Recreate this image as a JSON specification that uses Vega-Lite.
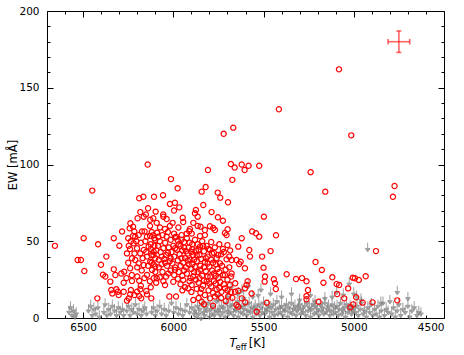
{
"$schema":"https://vega.github.io/schema/vega-lite/v6.json",
"width":397,"height":307,
"autosize":{"type":"none"},
"padding":{"left":47,"top":11,"right":20,"bottom":37},
"config":{
 "view":{"stroke":"#000","strokeWidth":1},
 "axis":{"domain":false,"grid":false,"labelFont":"DejaVu Sans","titleFont":"DejaVu Sans","labelFontSize":10.5,"titleFontSize":11.5,"titleFontWeight":"normal","labelColor":"#000","titleColor":"#000","tickColor":"#000","tickWidth":1}
},
"datasets":{
"circles":[
{"t":5082,"e":162},{"t":5415,"e":136},{"t":5668,"e":124},{"t":5721,"e":120},{"t":5014,"e":119},{"t":6142,"e":100},{"t":5808,"e":96.4},{"t":5681,"e":100.3},{"t":5660,"e":98},{"t":5621,"e":100},{"t":5605,"e":96.4},{"t":5583,"e":99.2},{"t":5524,"e":99.2},{"t":5239,"e":95},{"t":5673,"e":90},{"t":6013,"e":90.5},{"t":4774,"e":86},{"t":4783,"e":79},{"t":5158,"e":82.3},{"t":6449,"e":83},{"t":5976,"e":84.5},{"t":5843,"e":82.3},{"t":5821,"e":85.3},{"t":5754,"e":81.7},{"t":5740,"e":78.4},{"t":5697,"e":75.4},{"t":5834,"e":73.6},{"t":6107,"e":79},{"t":6057,"e":80},{"t":6019,"e":74.3},{"t":5991,"e":75.1},{"t":5996,"e":70},{"t":5967,"e":72.1},{"t":6098,"e":69.3},{"t":5875,"e":70.4},{"t":5880,"e":68.2},{"t":5788,"e":69},{"t":5753,"e":65.6},{"t":5725,"e":63.4},{"t":5699,"e":57.8},{"t":5714,"e":55.4},{"t":6056,"e":67.5},{"t":5948,"e":65.3},{"t":5865,"e":66},{"t":5865,"e":60},{"t":5889,"e":62},{"t":5849,"e":59.5},{"t":5797,"e":59.8},{"t":5779,"e":58.6},{"t":5621,"e":52},{"t":5563,"e":56.4},{"t":5542,"e":55.2},{"t":5524,"e":53},{"t":5705,"e":54},{"t":5769,"e":57.3},{"t":5825,"e":57.3},{"t":5912,"e":56.5},{"t":5498,"e":66},{"t":5431,"e":53.9},
{"t":6189,"e":78},{"t":6166,"e":79},{"t":6140,"e":71.5},{"t":6183,"e":69},{"t":6152,"e":67.5},{"t":6164,"e":66},{"t":6198,"e":65},{"t":6128,"e":64},{"t":6238,"e":61.7},{"t":6223,"e":59.5},{"t":6242,"e":58.4},{"t":6216,"e":56.4},{"t":6284,"e":56.4},{"t":6174,"e":56.4},{"t":6159,"e":56.4},{"t":6497,"e":52},{"t":6330,"e":52},{"t":6223,"e":53.4},
{"t":6129,"e":60},{"t":6111,"e":65},{"t":6092,"e":62},{"t":6074,"e":59},{"t":6055,"e":66},{"t":6046,"e":58},{"t":6037,"e":64.5},{"t":6019,"e":60},{"t":6004,"e":62},{"t":5996,"e":55},{"t":5972,"e":59},{"t":5954,"e":54},{"t":5945,"e":62.5},{"t":5926,"e":55},{"t":5908,"e":58},{"t":6111,"e":54},{"t":6083,"e":53},{"t":6037,"e":53},{"t":5991,"e":52.5},{"t":6129,"e":53.5},{"t":5898,"e":55},
{"t":6220,"e":48.7},{"t":6201,"e":45.4},{"t":6183,"e":42.1},{"t":6164,"e":44.3},{"t":6137,"e":46.5},{"t":6109,"e":43.2},{"t":6229,"e":38.9},{"t":6211,"e":37.8},{"t":6192,"e":35.6},{"t":6239,"e":32.4},{"t":6164,"e":34.5},{"t":6128,"e":36.7},{"t":6100,"e":38.9},{"t":6118,"e":31.3},{"t":6146,"e":28},{"t":6109,"e":25.9},{"t":6192,"e":54},{"t":6146,"e":53},{"t":6100,"e":50.8},{"t":6211,"e":53},{"t":6257,"e":42.1},{"t":6146,"e":40},{"t":6656,"e":47},{"t":6417,"e":48},{"t":6530,"e":37.8},{"t":6512,"e":37.8},{"t":6493,"e":30.6},{"t":6371,"e":40},{"t":6401,"e":34.7},{"t":6390,"e":28.2},{"t":6377,"e":27},{"t":6421,"e":12.8},{"t":6349,"e":23.7},{"t":6299,"e":47.1},{"t":6247,"e":47},{"t":6330,"e":31.7},{"t":6272,"e":30.2},{"t":6321,"e":28},{"t":6288,"e":29},{"t":6344,"e":18.2},{"t":6338,"e":16},{"t":6316,"e":18.7},{"t":6307,"e":17.1},{"t":6275,"e":23},{"t":6275,"e":17.1},{"t":6303,"e":15},{"t":6229,"e":24.1},{"t":6235,"e":18.2},{"t":6239,"e":15.4},{"t":6247,"e":12.8},{"t":6257,"e":11.3},{"t":6216,"e":15},{"t":6201,"e":17.1},{"t":6189,"e":14.3},{"t":6178,"e":12.8},{"t":6183,"e":18.7},{"t":6189,"e":24.3},{"t":6150,"e":17.6},{"t":6146,"e":15.4},{"t":6122,"e":12.8},
{"t":6250,"e":52},{"t":6235,"e":50},{"t":6205,"e":50},{"t":6180,"e":49},{"t":6155,"e":50},{"t":6125,"e":48},{"t":6105,"e":47},{"t":6240,"e":45},{"t":6215,"e":42},{"t":6170,"e":39},{"t":6150,"e":43},{"t":6120,"e":41},{"t":6095,"e":44},{"t":6250,"e":36},{"t":6200,"e":33},{"t":6175,"e":31},{"t":6140,"e":34},{"t":6110,"e":35},{"t":6230,"e":28},{"t":6200,"e":27},{"t":6160,"e":26},{"t":6130,"e":24},{"t":6100,"e":30},{"t":6260,"e":26},{"t":6180,"e":21},{"t":6125,"e":20},{"t":6095,"e":23},
{"t":5852,"e":53.4},{"t":5825,"e":54},{"t":5640,"e":46.5},{"t":5579,"e":44.3},{"t":5575,"e":40},{"t":5852,"e":46.5},{"t":5797,"e":44.3},{"t":5751,"e":41},{"t":5742,"e":35.6},{"t":5705,"e":38.2},{"t":5677,"e":37.8},{"t":5650,"e":37.8},{"t":5627,"e":36.7},{"t":5603,"e":32.4},{"t":5677,"e":29},{"t":5714,"e":28},{"t":6046,"e":21.5},{"t":6000,"e":23.6},{"t":6028,"e":29},{"t":5991,"e":31.3},{"t":6092,"e":25.9},{"t":6022,"e":14},{"t":5985,"e":14},{"t":5945,"e":24.8},{"t":5898,"e":21.5},{"t":5917,"e":19.3},{"t":5843,"e":10.6},{"t":5797,"e":12.8},{"t":5769,"e":14},{"t":5889,"e":11.7},{"t":5733,"e":17.1},{"t":5714,"e":19.3},{"t":5696,"e":14},{"t":5686,"e":21.5},{"t":5658,"e":17.1},{"t":5650,"e":8.5},{"t":5640,"e":7.4},{"t":5621,"e":12.8},{"t":5603,"e":19.3},{"t":5594,"e":21.5},{"t":5538,"e":4.1},{"t":5566,"e":16},
{"t":6120,"e":56},{"t":6105,"e":52},{"t":6090,"e":55.5},{"t":6075,"e":50},{"t":6060,"e":54},{"t":6045,"e":49},{"t":6030,"e":56},{"t":6015,"e":51},{"t":6000,"e":47},{"t":5985,"e":53},{"t":5970,"e":48},{"t":5955,"e":51},{"t":5940,"e":46},{"t":5925,"e":52},{"t":5910,"e":49},{"t":5895,"e":45},
{"t":6125,"e":45},{"t":6110,"e":41},{"t":6085,"e":47},{"t":6070,"e":43},{"t":6055,"e":45.5},{"t":6040,"e":41},{"t":6025,"e":46},{"t":6010,"e":43},{"t":5995,"e":40},{"t":5980,"e":44.5},{"t":5965,"e":41.5},{"t":5950,"e":44},{"t":5935,"e":39},{"t":5920,"e":42},{"t":5905,"e":38},{"t":5890,"e":41},
{"t":6120,"e":36},{"t":6100,"e":33.5},{"t":6080,"e":38},{"t":6065,"e":35},{"t":6050,"e":38.5},{"t":6035,"e":34},{"t":6020,"e":37},{"t":6005,"e":35.5},{"t":5990,"e":33},{"t":5975,"e":37.5},{"t":5960,"e":34},{"t":5945,"e":36},{"t":5930,"e":33},{"t":5915,"e":35},{"t":5900,"e":32},
{"t":6060,"e":30},{"t":6040,"e":27},{"t":6015,"e":31},{"t":5995,"e":28},{"t":5970,"e":30},{"t":5950,"e":27.5},{"t":5925,"e":29},{"t":5905,"e":26},{"t":5885,"e":30},{"t":6075,"e":26.5},{"t":6055,"e":24},{"t":5960,"e":22},{"t":5935,"e":20},{"t":5910,"e":24},
{"t":5880,"e":51},{"t":5865,"e":48},{"t":5840,"e":50},{"t":5815,"e":47},{"t":5790,"e":49.5},{"t":5770,"e":46},{"t":5745,"e":48},{"t":5725,"e":45},{"t":5700,"e":47.5},{"t":5685,"e":44},
{"t":5875,"e":44},{"t":5855,"e":41},{"t":5830,"e":43.5},{"t":5810,"e":40},{"t":5785,"e":42},{"t":5760,"e":39},{"t":5735,"e":41.5},{"t":5720,"e":43},{"t":5690,"e":40},
{"t":5870,"e":37},{"t":5850,"e":34},{"t":5825,"e":36.5},{"t":5800,"e":33.5},{"t":5780,"e":36},{"t":5755,"e":32},{"t":5730,"e":34},{"t":5710,"e":31.5},{"t":5690,"e":33},
{"t":5865,"e":30},{"t":5840,"e":27.5},{"t":5820,"e":30.5},{"t":5795,"e":27},{"t":5775,"e":29},{"t":5750,"e":26},{"t":5725,"e":28},{"t":5700,"e":25},{"t":5680,"e":27},
{"t":5860,"e":23},{"t":5835,"e":21},{"t":5815,"e":24},{"t":5790,"e":20.5},{"t":5765,"e":22.5},{"t":5745,"e":19.5},{"t":5720,"e":22},{"t":5700,"e":18},{"t":5680,"e":17},
{"t":5850,"e":16.5},{"t":5825,"e":15},{"t":5805,"e":18},{"t":5780,"e":16.5},{"t":5755,"e":15.5},{"t":5735,"e":13},{"t":5710,"e":11},{"t":5860,"e":13},{"t":5830,"e":9},{"t":5780,"e":8},
{"t":5900,"e":17},{"t":5875,"e":25},{"t":5880,"e":33.5},{"t":5895,"e":48},
{"t":5990,"e":45.5},{"t":5975,"e":50.5},{"t":5960,"e":47},{"t":5940,"e":49.5},{"t":5930,"e":43.5},{"t":5915,"e":46},{"t":5900,"e":43},{"t":5885,"e":38},{"t":5860,"e":44.5},{"t":5845,"e":38.5},{"t":5835,"e":47},{"t":5820,"e":39},{"t":5805,"e":45},{"t":5790,"e":38},{"t":5775,"e":42.5},{"t":5765,"e":35},{"t":5850,"e":31.5},{"t":5830,"e":33},{"t":5810,"e":35.5},{"t":5785,"e":31},{"t":5765,"e":27.5},{"t":5745,"e":30},{"t":5855,"e":26},{"t":5830,"e":24.5},{"t":5810,"e":27},{"t":5800,"e":22.5},{"t":5775,"e":24},{"t":5955,"e":39},{"t":5940,"e":31},{"t":5920,"e":37.5},{"t":5895,"e":35},{"t":5870,"e":41},{"t":6030,"e":42.5},{"t":6015,"e":39},{"t":6045,"e":36},{"t":6065,"e":40},{"t":6080,"e":33},{"t":5975,"e":25.5},{"t":5950,"e":18},{"t":5890,"e":27},{"t":5870,"e":19},{"t":5845,"e":19},{"t":5760,"e":18.5},{"t":5740,"e":23.5},
{"t":5461,"e":43.6},{"t":5508,"e":40},{"t":5635,"e":35.2},{"t":5500,"e":32.8},{"t":5492,"e":27},{"t":5588,"e":24},{"t":5494,"e":23.7},{"t":5443,"e":25.2},{"t":5437,"e":22.6},{"t":5657,"e":22.6},{"t":5640,"e":17.8},{"t":5673,"e":13.2},{"t":5432,"e":18.9},{"t":5601,"e":10.2},{"t":5482,"e":10},
{"t":5372,"e":28.5},{"t":5320,"e":25.4},{"t":5287,"e":26},{"t":5262,"e":23.9},{"t":5254,"e":18.2},{"t":5262,"e":14.3},{"t":5262,"e":12.2},{"t":5195,"e":10.6},{"t":5212,"e":36.5},{"t":5177,"e":31.3},{"t":5168,"e":23},{"t":5119,"e":26.5},{"t":5095,"e":22.1},{"t":5081,"e":21.5},{"t":5092,"e":15.6},{"t":5053,"e":12.8},{"t":5031,"e":19.3},{"t":5005,"e":26.3},{"t":4972,"e":24.8},{"t":4934,"e":27.2},{"t":4877,"e":43.6},{"t":4987,"e":13.5},{"t":5003,"e":8.9},{"t":5019,"e":7},{"t":4951,"e":10},{"t":4896,"e":10.2},{"t":4759,"e":11.5},{"t":4994,"e":25.9}
],
"limits":[
{"t":6578,"e":8},{"t":6570,"e":11},{"t":6562,"e":6},{"t":6553,"e":9},{"t":6545,"e":5},{"t":6538,"e":7},
{"t":6470,"e":9},{"t":6458,"e":12},{"t":6450,"e":6},{"t":6440,"e":10},{"t":6430,"e":7},{"t":6418,"e":11},{"t":6410,"e":5},
{"t":6385,"e":8},{"t":6378,"e":13},{"t":6368,"e":6},{"t":6358,"e":10},{"t":6348,"e":7},{"t":6338,"e":12},{"t":6326,"e":9},{"t":6315,"e":6},{"t":6305,"e":11},{"t":6295,"e":8},{"t":6282,"e":10},{"t":6275,"e":6},
{"t":6258,"e":9},{"t":6248,"e":12},{"t":6240,"e":6},{"t":6230,"e":10},{"t":6220,"e":8},{"t":6210,"e":13},{"t":6200,"e":7},{"t":6190,"e":10},{"t":6178,"e":6},{"t":6168,"e":9},{"t":6158,"e":11},{"t":6148,"e":7},
{"t":6120,"e":8},{"t":6110,"e":11},{"t":6100,"e":6},{"t":6090,"e":9},{"t":6075,"e":12},{"t":6065,"e":7},{"t":6050,"e":10},{"t":6040,"e":6},{"t":6025,"e":9},{"t":6010,"e":14},{"t":5998,"e":8},{"t":5985,"e":11},{"t":5972,"e":7},{"t":5960,"e":10},{"t":5948,"e":6},{"t":5935,"e":9},{"t":5925,"e":13},{"t":5910,"e":8},{"t":5898,"e":11},{"t":5885,"e":7},
{"t":5880,"e":9},{"t":5873,"e":5},{"t":5866,"e":12},{"t":5860,"e":7},{"t":5853,"e":10},{"t":5846,"e":4},{"t":5840,"e":13},{"t":5833,"e":8},{"t":5826,"e":6},{"t":5820,"e":11},
{"t":5813,"e":9},{"t":5806,"e":14},{"t":5800,"e":5},{"t":5793,"e":10},{"t":5786,"e":7},{"t":5780,"e":12},{"t":5773,"e":6},{"t":5766,"e":9},{"t":5760,"e":15},{"t":5753,"e":8},
{"t":5746,"e":10},{"t":5740,"e":6},{"t":5733,"e":12},{"t":5726,"e":8},{"t":5720,"e":11},{"t":5713,"e":5},{"t":5706,"e":14},{"t":5700,"e":9},{"t":5693,"e":7},{"t":5686,"e":12},
{"t":5680,"e":8},{"t":5673,"e":13},{"t":5666,"e":6},{"t":5660,"e":10},{"t":5653,"e":9},{"t":5646,"e":15},{"t":5640,"e":5},{"t":5633,"e":11},{"t":5626,"e":8},{"t":5620,"e":12},
{"t":5613,"e":7},{"t":5606,"e":10},{"t":5600,"e":13},{"t":5593,"e":6},{"t":5586,"e":9},{"t":5580,"e":14},{"t":5573,"e":8},{"t":5566,"e":11},{"t":5560,"e":5},{"t":5553,"e":10},
{"t":5546,"e":12},{"t":5540,"e":7},{"t":5533,"e":9},{"t":5526,"e":13},{"t":5520,"e":6},{"t":5513,"e":11},{"t":5506,"e":8},{"t":5500,"e":14},{"t":5493,"e":7},{"t":5486,"e":10},
{"t":5480,"e":9},{"t":5473,"e":12},{"t":5466,"e":5},{"t":5460,"e":11},{"t":5453,"e":8},{"t":5446,"e":13},{"t":5440,"e":6},{"t":5433,"e":10},{"t":5426,"e":15},{"t":5420,"e":7},
{"t":5413,"e":11},{"t":5406,"e":8},{"t":5400,"e":12},{"t":5393,"e":6},{"t":5386,"e":10},{"t":5380,"e":9},{"t":5373,"e":13},{"t":5366,"e":5},{"t":5360,"e":11},{"t":5353,"e":8},
{"t":5346,"e":14},{"t":5340,"e":7},{"t":5333,"e":10},{"t":5326,"e":12},{"t":5320,"e":6},{"t":5313,"e":9},{"t":5306,"e":11},{"t":5300,"e":13},{"t":5293,"e":7},{"t":5286,"e":10},
{"t":5280,"e":8},{"t":5273,"e":12},{"t":5266,"e":6},{"t":5260,"e":14},{"t":5253,"e":9},{"t":5246,"e":11},{"t":5240,"e":5},{"t":5233,"e":10},{"t":5226,"e":13},{"t":5220,"e":7},
{"t":5213,"e":12},{"t":5206,"e":8},{"t":5200,"e":10},{"t":5193,"e":6},{"t":5186,"e":13},{"t":5180,"e":9},{"t":5173,"e":11},{"t":5166,"e":7},{"t":5160,"e":14},{"t":5153,"e":8},
{"t":5146,"e":10},{"t":5140,"e":12},{"t":5133,"e":6},{"t":5126,"e":9},{"t":5120,"e":13},{"t":5113,"e":7},{"t":5106,"e":11},{"t":5100,"e":8},{"t":5093,"e":12},{"t":5086,"e":6},
{"t":5080,"e":10},{"t":5073,"e":14},{"t":5066,"e":7},{"t":5060,"e":9},{"t":5053,"e":11},{"t":5046,"e":5},{"t":5040,"e":13},{"t":5033,"e":8},{"t":5026,"e":10},{"t":5020,"e":12},
{"t":5013,"e":7},{"t":5006,"e":9},{"t":5000,"e":11},
{"t":4990,"e":8},{"t":4982,"e":12},{"t":4975,"e":6},{"t":4965,"e":10},{"t":4958,"e":14},{"t":4948,"e":7},{"t":4940,"e":9},{"t":4930,"e":5},{"t":4922,"e":11},{"t":4912,"e":8},{"t":4903,"e":13},{"t":4895,"e":6},{"t":4885,"e":10},{"t":4876,"e":7},{"t":4866,"e":12},{"t":4858,"e":5},{"t":4848,"e":9},{"t":4838,"e":14},{"t":4830,"e":6},{"t":4820,"e":10},{"t":4810,"e":8},{"t":4800,"e":15},{"t":4790,"e":7},{"t":4780,"e":11},{"t":4770,"e":5},{"t":4760,"e":9},{"t":4750,"e":13},{"t":4740,"e":6},{"t":4728,"e":10},{"t":4715,"e":8},{"t":4700,"e":12},{"t":4690,"e":5},{"t":4678,"e":9},{"t":4665,"e":11},{"t":4650,"e":6},{"t":4640,"e":8},{"t":4628,"e":7},
{"t":5585,"e":25},{"t":5640,"e":20},{"t":5610,"e":17},{"t":5514,"e":22.6},{"t":5461,"e":20},{"t":5345,"e":20},{"t":5215,"e":15},{"t":5160,"e":17},{"t":5058,"e":19.3},{"t":5025,"e":26.5},{"t":4923,"e":49},{"t":4759,"e":21},{"t":4984,"e":18},{"t":5700,"e":18},{"t":5750,"e":16},{"t":5400,"e":18},{"t":5300,"e":16},{"t":5120,"e":18},{"t":4850,"e":14},{"t":4700,"e":17},{"t":5530,"e":19},{"t":5680,"e":24},{"t":5620,"e":22},{"t":5560,"e":18},{"t":5240,"e":19},{"t":5095,"e":21},{"t":5000,"e":20},{"t":4960,"e":16}
],
"bars":[{"x":4690,"x2":4810,"y":180,"y2":180},{"x":4750,"x2":4750,"y":173,"y2":187}],
"caps":[{"x":4690,"x2":4690,"y":178.2,"y2":181.8},{"x":4810,"x2":4810,"y":178.2,"y2":181.8},{"x":4736,"x2":4764,"y":173,"y2":173},{"x":4736,"x2":4764,"y":187,"y2":187}]
},
"layer":[
 {"data":{"name":"limits"},
  "mark":{"type":"point","shape":"M0,0L0,1.1M-0.42,1L0.42,1L0,1.6Z","filled":true,"fill":"#808080","stroke":"#808080","strokeWidth":1,"opacity":0.75,"size":130},
  "encoding":{
   "x":{"field":"t","type":"quantitative","scale":{"domain":[4500,6700],"reverse":true,"nice":false,"zero":false},
     "axis":{"orient":"bottom","values":[6700,6600,6500,6400,6300,6200,6100,6000,5900,5800,5700,5600,5500,5400,5300,5200,5100,5000,4900,4800,4700,4600,4500],"format":"d","labelExpr":"datum.value % 500 === 0 ? datum.label : ''","tickSize":{"condition":{"test":"datum.value % 500 === 0","value":-6},"value":-3},"labelPadding":10,"title":"T","titleFontStyle":"italic","titleX":185.5,"titleY":28,"titleBaseline":"alphabetic","titleAlign":"center"}},
   "y":{"field":"e","type":"quantitative","scale":{"domain":[0,200],"nice":false,"zero":true},
     "axis":{"orient":"left","values":[0,10,20,30,40,50,60,70,80,90,100,110,120,130,140,150,160,170,180,190,200],"format":"d","labelExpr":"datum.value % 50 === 0 ? datum.label : ''","tickSize":{"condition":{"test":"datum.value % 50 === 0","value":-6},"value":-3},"labelPadding":14,"title":"EW [mÅ]","titlePadding":0}}
  }},
 {"data":{"name":"circles"},
  "mark":{"type":"point","shape":"circle","filled":false,"stroke":"#ff0000","strokeWidth":1.2,"size":27,"opacity":1},
  "encoding":{
   "x":{"field":"t","type":"quantitative",
     "axis":{"orient":"top","values":[6700,6600,6500,6400,6300,6200,6100,6000,5900,5800,5700,5600,5500,5400,5300,5200,5100,5000,4900,4800,4700,4600,4500],"labels":false,"tickSize":{"condition":{"test":"datum.value % 500 === 0","value":-6},"value":-3},"title":null}},
   "y":{"field":"e","type":"quantitative",
     "axis":{"orient":"right","values":[0,10,20,30,40,50,60,70,80,90,100,110,120,130,140,150,160,170,180,190,200],"labels":false,"tickSize":{"condition":{"test":"datum.value % 50 === 0","value":-6},"value":-3},"title":null}}
  }},
 {"data":{"name":"bars"},
  "mark":{"type":"rule","color":"#ff0000","opacity":0.6,"strokeWidth":1.6},
  "encoding":{
   "x":{"field":"x","type":"quantitative","axis":{"orient":"bottom","ticks":false,"labels":false,"domain":false,"title":"eff","titleFontSize":8.5,"titleX":193.5,"titleY":31,"titleBaseline":"alphabetic","titleAlign":"center"}},
   "x2":{"field":"x2"},
   "y":{"field":"y","type":"quantitative","axis":null},
   "y2":{"field":"y2"}
  }},
 {"data":{"name":"caps"},
  "mark":{"type":"rule","color":"#ff0000","opacity":0.6,"strokeWidth":1.6},
  "encoding":{
   "x":{"field":"x","type":"quantitative","axis":{"orient":"bottom","ticks":false,"labels":false,"domain":false,"title":"[K]","titleX":209.5,"titleY":28,"titleBaseline":"alphabetic","titleAlign":"center"}},
   "x2":{"field":"x2"},
   "y":{"field":"y","type":"quantitative","axis":null},
   "y2":{"field":"y2"}
  }}
],
"resolve":{"axis":{"x":"independent","y":"independent"}}
}
